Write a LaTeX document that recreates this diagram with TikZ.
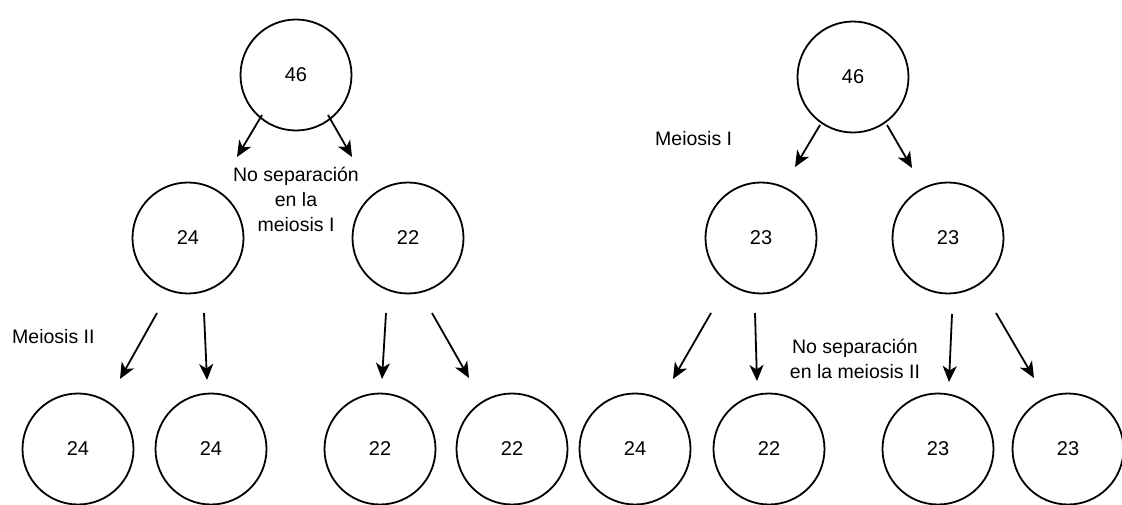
\documentclass[tikz,border=0pt]{standalone}
\usepackage{fontspec}
\setmainfont{Liberation Sans}
\usetikzlibrary{arrows.meta}
\begin{document}
\begin{tikzpicture}[x=1pt,y=-1pt,
  cell/.style={circle,draw,line width=1.8pt,minimum size=111pt,inner sep=0pt,font=\fontsize{20}{25}\selectfont},
  lbl/.style={inner sep=0pt,font=\fontsize{19.5}{25}\selectfont,align=center,anchor=base},
  arr/.style={line width=1.8pt,-{Stealth[length=16pt,width=14pt,inset=4.5pt]}}]
\useasboundingbox (0,0) rectangle (1122,505);
% left tree
\node[cell] (L0) at (296,75) {46};
\node[cell] (L1a) at (188,238) {24};
\node[cell] (L1b) at (408,238) {22};
\node[cell] (L2a) at (78,449) {24};
\node[cell] (L2b) at (211,449) {24};
\node[cell] (L2c) at (380,449) {22};
\node[cell] (L2d) at (512,449) {22};
% right tree
\node[cell] (R0) at (853,77) {46};
\node[cell] (R1a) at (761,238) {23};
\node[cell] (R1b) at (948,238) {23};
\node[cell] (R2a) at (635,449) {24};
\node[cell] (R2b) at (769,449) {22};
\node[cell] (R2c) at (938,449) {23};
\node[cell] (R2d) at (1068,449) {23};
% labels
\node[lbl] (t1) at (296,232) {No separación\\en la\\meiosis I};
\node[lbl,anchor=base west] (t2) at (12,343) {Meiosis II};
\node[lbl,anchor=base west] (t3) at (655,146) {Meiosis I};
\node[lbl] (t4) at (855,378) {No separación\\en la meiosis II};
% arrow coordinates
\coordinate (a1s) at (262,115); \coordinate (a1e) at (237,157);
\coordinate (a2s) at (328,115); \coordinate (a2e) at (352,157);
\coordinate (a3s) at (157,313); \coordinate (a3e) at (120,379);
\coordinate (a4s) at (204,313); \coordinate (a4e) at (207,380);
\coordinate (a5s) at (386,313); \coordinate (a5e) at (382,379);
\coordinate (a6s) at (432,313); \coordinate (a6e) at (469,378);
\coordinate (b1s) at (820,125); \coordinate (b1e) at (795,167);
\coordinate (b2s) at (887,125); \coordinate (b2e) at (912,168);
\coordinate (b3s) at (711,313); \coordinate (b3e) at (673,379);
\coordinate (b4s) at (755,313); \coordinate (b4e) at (757,381);
\coordinate (b5s) at (952,314); \coordinate (b5e) at (949,382);
\coordinate (b6s) at (996,313); \coordinate (b6e) at (1034,378);
\foreach \p in {a1,a2,a3,a4,a5,a6,b1,b2,b3,b4,b5,b6}
  \draw[arr] (\p s) -- (\p e);
\end{tikzpicture}
\end{document}
